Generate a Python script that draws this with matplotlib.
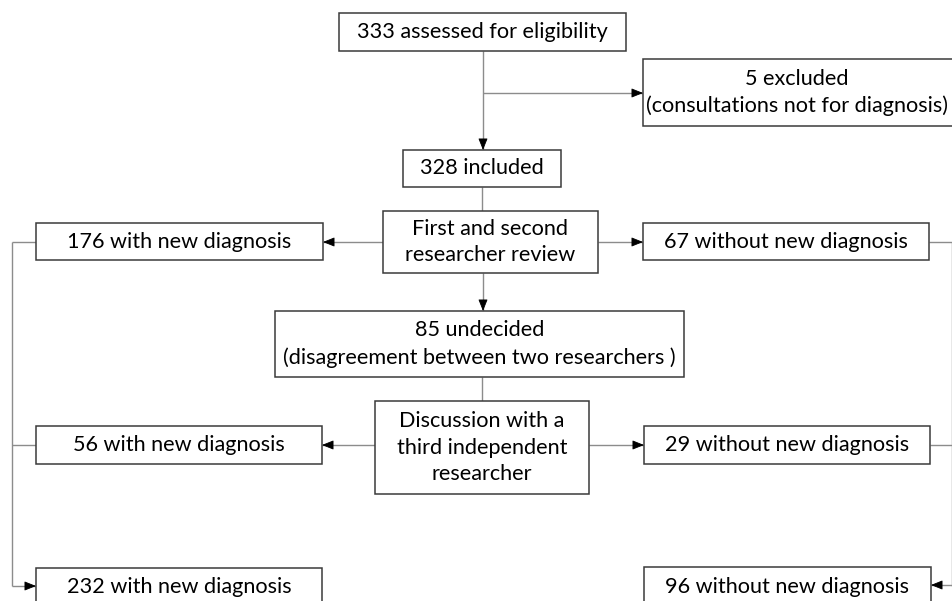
import matplotlib
matplotlib.use("Agg")
import matplotlib.pyplot as plt
from matplotlib.patches import Rectangle

# ---- data (labels) ----
labels = [
    "333 assessed for eligibility",
    "5 excluded\n(consultations not for diagnosis)",
    "328 included",
    "First and second\nresearcher review",
    "176 with new diagnosis",
    "67 without new diagnosis",
    "85 undecided\n(disagreement between two researchers )",
    "Discussion with a\nthird independent\nresearcher",
    "56 with new diagnosis",
    "29 without new diagnosis",
    "232 with new diagnosis",
    "96 without new diagnosis",
]

# ---- layout (pixel boxes: x0, y0, x1, y1) ----
boxes = [
    (339, 13, 626, 51),
    (643, 59, 958, 126),
    (403, 150, 561, 187),
    (383, 211, 598, 273),
    (36, 223, 323, 260),
    (643, 223, 929, 260),
    (275, 311, 684, 377),
    (375, 401, 589, 494),
    (36, 426, 322, 464),
    (644, 426, 930, 464),
    (36, 568, 322, 620),
    (644, 567, 931, 620),
]
text_y = [None] * len(boxes)
text_y[10] = 587
text_y[11] = 587
text_x = [None] * len(boxes)
text_x[1] = 797

W, H = 953, 601
fig = plt.figure(figsize=(W / 100, H / 100), dpi=100)
ax = fig.add_axes([0, 0, 1, 1])
ax.set_xlim(0, W)
ax.set_ylim(H, 0)
ax.axis("off")

FONT = "Lato"
FS = 15.6
EDGE = "#3a3a3a"
LINE = "#8c8c8c"

for lab, (x0, y0, x1, y1), tx, ty in zip(labels, boxes, text_x, text_y):
    ax.add_patch(Rectangle((x0, y0), x1 - x0, y1 - y0, fill=True, facecolor="white",
                           edgecolor=EDGE, lw=1.1, zorder=3))
    cy = (y0 + y1) / 2 if ty is None else ty
    cx_ = (x0 + x1) / 2 if tx is None else tx
    ax.text(cx_, cy, lab, ha="center", va="center", fontsize=FS,
            family=FONT, color="black", linespacing=1.42, zorder=4)


def line(xs, ys):
    ax.plot(xs, ys, color=LINE, lw=1.0, zorder=2, solid_capstyle="butt")


def arrow(x0, y0, x1, y1):
    line([x0, x1], [y0, y1])
    dx = x1 - x0
    dy = y1 - y0
    n = (dx * dx + dy * dy) ** 0.5
    sx, sy = x1 - dx / n * 9, y1 - dy / n * 9
    ax.annotate("", xy=(x1, y1), xytext=(sx, sy),
                arrowprops=dict(arrowstyle="-|>,head_length=0.55,head_width=0.22",
                                color="black", lw=0.6, shrinkA=0, shrinkB=0,
                                mutation_scale=13),
                zorder=2.5)


cx = 483
# top chain
arrow(cx, 51, cx, 150)
arrow(cx, 93, 643, 93)
line([482, 482], [187, 211])
arrow(383, 242, 323, 242)
arrow(598, 242, 643, 242)
arrow(cx, 273, cx, 311)
line([482, 482], [377, 401])
arrow(375, 445, 322, 445)
arrow(589, 445, 644, 445)

# left bracket
line([36, 12], [242, 242])
line([36, 12], [445, 445])
line([12, 12], [242, 586])
arrow(12, 586, 36, 586)

# right bracket
line([929, 953], [242, 242])
line([930, 953], [445, 445])
line([952.5, 952.5], [242, 586])
arrow(953, 585, 931, 585)

fig.savefig("out.png", dpi=100)
